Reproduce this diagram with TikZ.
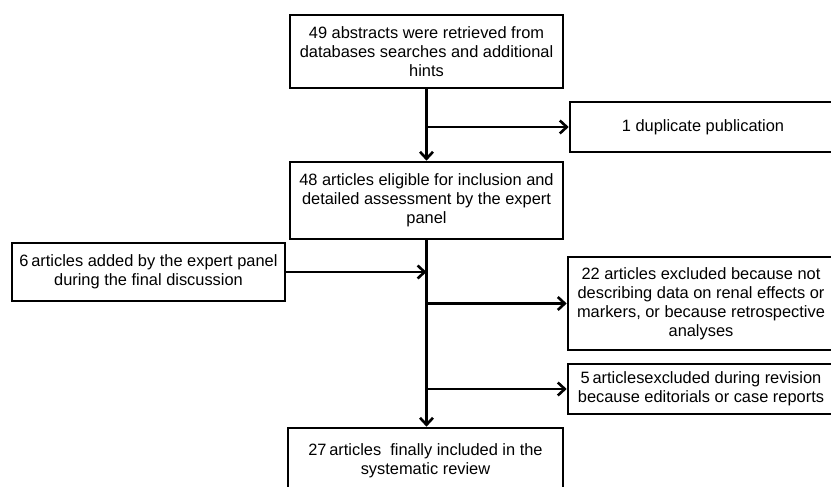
\documentclass[tikz,border=0pt]{standalone}
\usepackage{fontspec}
\setmainfont{Liberation Sans}
\usetikzlibrary{arrows.meta}
\tikzset{
	flowbox/.style={draw, line width=2.6pt, inner sep=0pt, align=center, font=\fontsize{16.4}{19}\selectfont},
	flowarrow/.style={line width=2.6pt, -{Straight Barb[length=7pt, width=13pt, line width=2.6pt]}}
}

\begin{document}
\begin{tikzpicture}[x=1pt, y=-1pt]
		%%%%% START %%%%%
		\useasboundingbox (0, 0) rectangle (831, 487);
		
		\node[flowbox, minimum width=273pt, minimum height=73pt] (abs) at (426.5, 51.5) {49 abstracts were retrieved from\\databases searches and additional\\hints};
		\node[flowbox, minimum width=266pt, minimum height=50pt] (dup) at (703, 127) {1 duplicate publication};
		\node[flowbox, minimum width=273pt, minimum height=77pt] (elig) at (426.5, 200.5) {48 articles eligible for inclusion and\\detailed assessment by the expert\\panel};
		\node[flowbox, minimum width=273pt, minimum height=58pt] (added) at (148.5, 272) {6\,articles added by the expert panel\\during the final discussion};
		\node[flowbox, minimum width=266pt, minimum height=93pt] (excl) at (701, 303.5) {22 articles excluded because not\\describing data on renal effects or\\markers, or because retrospective\\analyses};
		\node[flowbox, minimum width=266pt, minimum height=50pt] (rev) at (701, 389) {5\,articlesexcluded during revision\\because editorials or case reports};
		\node[flowbox, minimum width=275pt, minimum height=66pt] (final) at (425.5, 461) {27\,articles~ finally included in the\\systematic review};
		
		\coordinate (j1) at (abs.south |- dup.west);
		\coordinate (j2) at (abs.south |- added.east);
		\coordinate (j3) at (abs.south |- excl.west);
		\coordinate (j4) at (abs.south |- rev.west);
		
		\draw[flowarrow] (abs.south) -- (elig.north);
		\draw[flowarrow] (j1) -- (dup.west);
		
		\draw[flowarrow] (elig.south) -- (elig.south |- final.north);
		\draw[flowarrow] (added.east) -- (j2);
		\draw[flowarrow] (j3) -- (excl.west);
		\draw[flowarrow] (j4) -- (rev.west);
		%%%%% END %%%%%
\end{tikzpicture}
\end{document}
